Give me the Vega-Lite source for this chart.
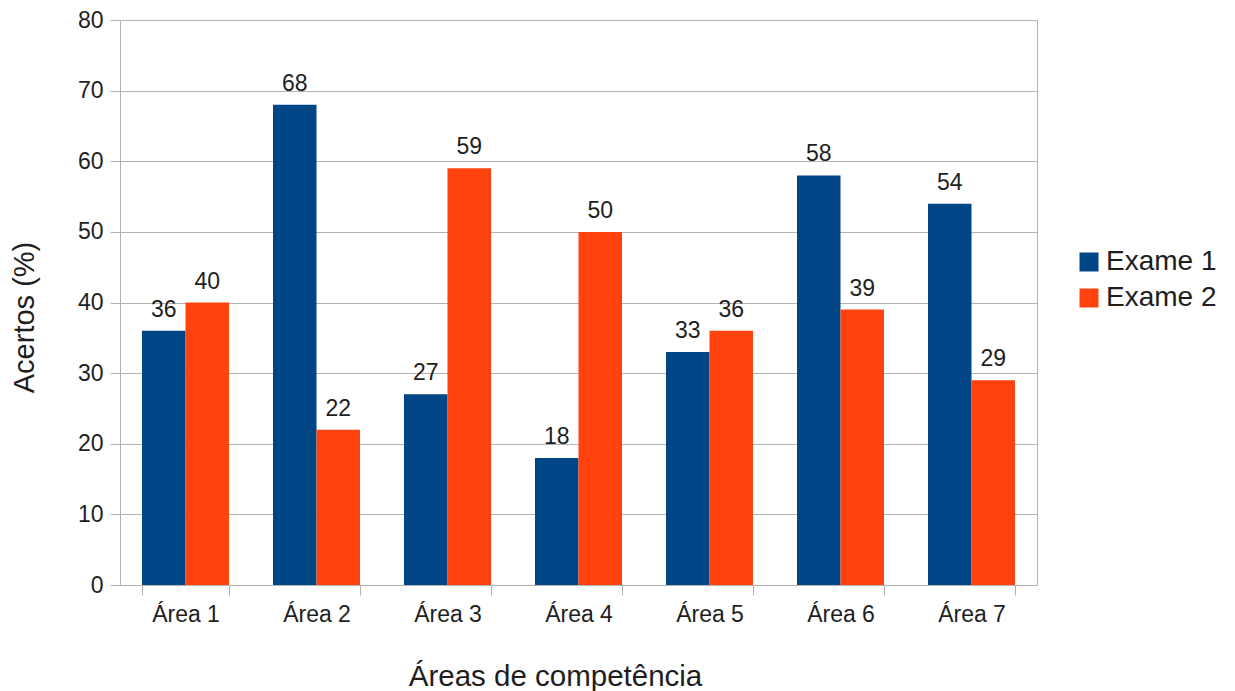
{
  "$schema": "https://vega.github.io/schema/vega-lite/v6.json",
  "width": 917,
  "height": 565,
  "autosize": {"type": "none"},
  "padding": {"left": 120, "top": 20, "right": 198, "bottom": 106},
  "background": "white",
  "data": {
    "values": [
      {"area": "Área 1", "exame": "Exame 1", "valor": 36},
      {"area": "Área 1", "exame": "Exame 2", "valor": 40},
      {"area": "Área 2", "exame": "Exame 1", "valor": 68},
      {"area": "Área 2", "exame": "Exame 2", "valor": 22},
      {"area": "Área 3", "exame": "Exame 1", "valor": 27},
      {"area": "Área 3", "exame": "Exame 2", "valor": 59},
      {"area": "Área 4", "exame": "Exame 1", "valor": 18},
      {"area": "Área 4", "exame": "Exame 2", "valor": 50},
      {"area": "Área 5", "exame": "Exame 1", "valor": 33},
      {"area": "Área 5", "exame": "Exame 2", "valor": 36},
      {"area": "Área 6", "exame": "Exame 1", "valor": 58},
      {"area": "Área 6", "exame": "Exame 2", "valor": 39},
      {"area": "Área 7", "exame": "Exame 1", "valor": 54},
      {"area": "Área 7", "exame": "Exame 2", "valor": 29}
    ]
  },
  "encoding": {
    "x": {
      "field": "area",
      "type": "nominal",
      "sort": null,
      "scale": {"paddingInner": 0.336, "paddingOuter": 0.168},
      "axis": {
        "title": "Áreas de competência",
        "labelAngle": 0,
        "labelFontSize": 23,
        "labelPadding": 8,
        "tickBand": "extent",
        "tickSize": 10,
        "titleFontSize": 29.5,
        "titleFontWeight": "normal",
        "titleX": 435,
        "titleY": 100,
        "titleBaseline": "alphabetic",
        "titleAlign": "center"
      }
    },
    "xOffset": {"field": "exame", "type": "nominal", "scale": {"paddingInner": 0, "paddingOuter": 0}},
    "y": {
      "field": "valor",
      "type": "quantitative",
      "scale": {"domain": [0, 80], "nice": false},
      "axis": {
        "title": "Acertos (%)",
        "values": [0, 10, 20, 30, 40, 50, 60, 70, 80],
        "labelFontSize": 23,
        "labelPadding": 7,
        "tickSize": 10,
        "titleFontSize": 29,
        "titleFontWeight": "normal",
        "titleAngle": -90,
        "titleX": -87,
        "titleY": 297,
        "titleBaseline": "alphabetic",
        "titleAlign": "center"
      }
    }
  },
  "layer": [
    {
      "mark": {"type": "bar"},
      "encoding": {
        "color": {
          "field": "exame",
          "type": "nominal",
          "scale": {"domain": ["Exame 1", "Exame 2"], "range": ["#004586", "#ff420e"]},
          "legend": {"title": null}
        }
      }
    },
    {
      "mark": {"type": "text", "baseline": "alphabetic", "dy": -14, "fontSize": 23, "color": "#1e1e1e"},
      "encoding": {"text": {"field": "valor", "type": "quantitative"}}
    }
  ],
  "config": {
    "font": "Liberation Sans",
    "view": {"stroke": "#b3b3b3", "strokeWidth": 1},
    "axis": {
      "gridColor": "#b3b3b3",
      "domainColor": "#b3b3b3",
      "tickColor": "#b3b3b3",
      "labelColor": "#1e1e1e",
      "titleColor": "#1e1e1e",
      "labelFont": "Liberation Sans",
      "titleFont": "Liberation Sans"
    },
    "axisX": {"grid": false},
    "axisY": {"grid": true},
    "legend": {
      "orient": "none",
      "legendX": 955,
      "legendY": 228,
      "labelFontSize": 28,
      "labelColor": "#1e1e1e",
      "labelFont": "Liberation Sans",
      "symbolType": "square",
      "symbolSize": 361,
      "symbolStrokeWidth": 0,
      "symbolOpacity": 1,
      "labelOffset": 3,
      "rowPadding": 8
    }
  }
}
